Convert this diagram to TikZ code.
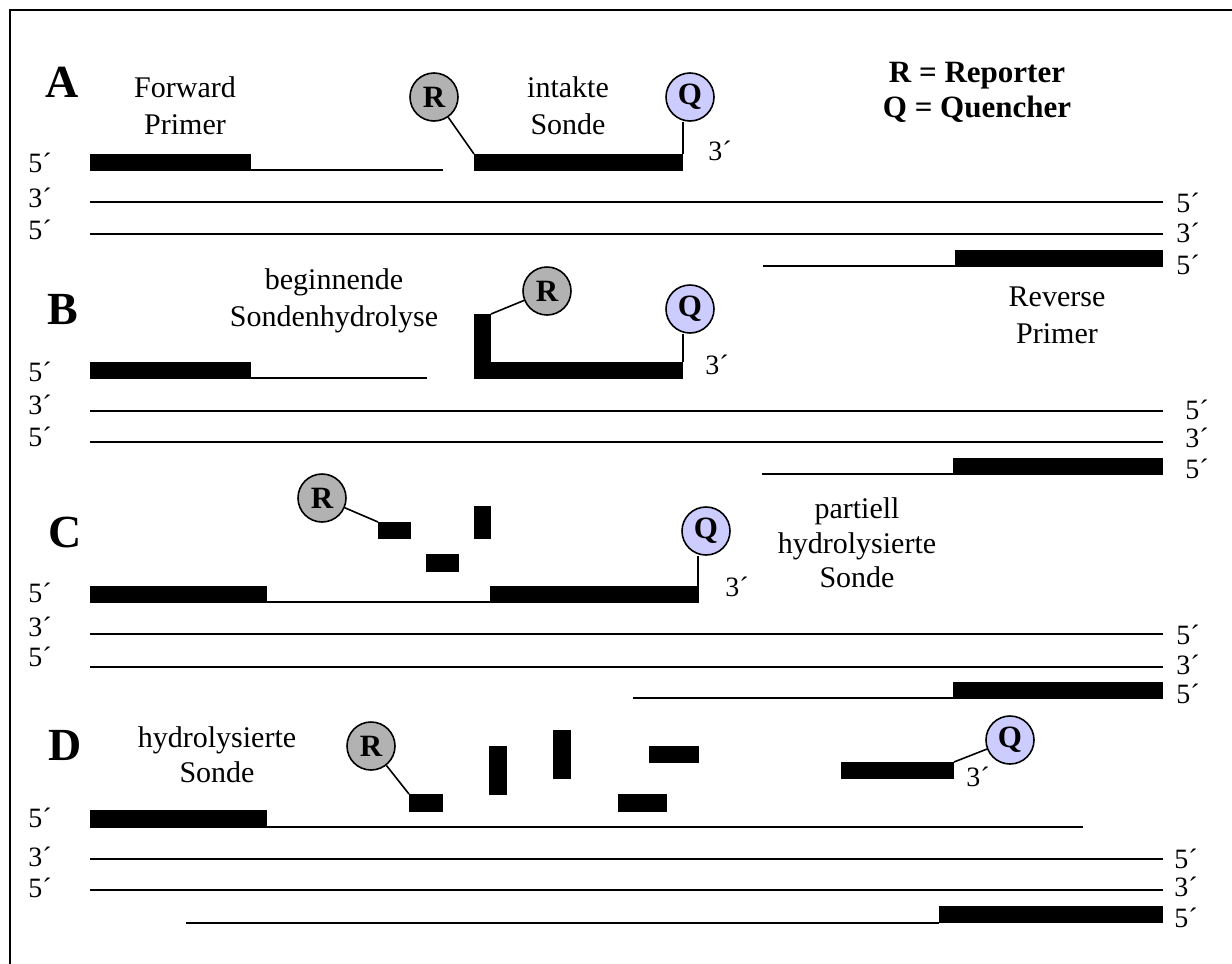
\documentclass[tikz,border=0pt]{standalone}
\usepackage{fontspec}
\setmainfont{Liberation Serif}
\definecolor{repgray}{RGB}{178,178,178}
\definecolor{quelav}{RGB}{204,204,255}
\begin{document}
\begin{tikzpicture}[x=0.5pt,y=-0.5pt,
  dnaline/.style={line width=1pt},
  link/.style={line width=0.8pt},
  framestyle/.style={line width=1pt},
  rep/.style={circle, draw, line width=0.8pt, fill=repgray, minimum size=24pt, inner sep=0pt, font=\fontsize{15.5}{15.5}\selectfont\bfseries},
  que/.style={circle, draw, line width=0.8pt, fill=quelav, minimum size=24pt, inner sep=0pt, font=\fontsize{15.5}{15.5}\selectfont\bfseries},
  lbl/.style={font=\fontsize{15}{18.5}\selectfont, align=center, inner sep=0pt},
  legend/.style={font=\fontsize{15.5}{17.5}\selectfont\bfseries, align=center, inner sep=0pt},
  endlbl/.style={font=\fontsize{14}{14}\selectfont, inner sep=0pt},
  panel/.style={font=\fontsize{23}{23}\selectfont\bfseries, inner sep=0pt}]
\useasboundingbox (0,0) rectangle (1232,964);
\draw[framestyle] (10,964) -- (10,10) -- (1232,10);

% ---------------- Panel A ----------------
\node[panel] (labA) at (62,82) {A};
\node[lbl] (fpA) at (185,106) {Forward\\Primer};
\node[lbl] (isA) at (568,106) {intakte\\Sonde};
\node[legend] (leg) at (977,92) {R = Reporter\\Q = Quencher};
\node[rep] (RA) at (434,97) {R};
\node[que] (QA) at (690,97) {Q};
\fill (90,154) rectangle (251,171);
\draw[dnaline] (251,170) -- (443,170);
\fill (474,154) rectangle (683,171);
\coordinate (pA5) at (474,154);
\coordinate (pA3) at (683,154);
\draw[link] (RA) -- (pA5);
\draw[link] (pA3) -- (pA3 |- QA.south);
\node[endlbl] (tA) at (720,151) {3´};
\node[endlbl] (lA1) at (40,163) {5´};
\node[endlbl] (lA2) at (40,198) {3´};
\node[endlbl] (lA3) at (40,230) {5´};
\draw[dnaline] (90,202) -- (1163,202);
\draw[dnaline] (90,234) -- (1163,234);
\node[endlbl] (rA1) at (1188,203) {5´};
\node[endlbl] (rA2) at (1188,233) {3´};
\node[endlbl] (rA3) at (1188,265) {5´};
\draw[dnaline] (763,266) -- (955,266);
\fill (955,250) rectangle (1163,267);
\node[lbl] (rpA) at (1057,315) {Reverse\\Primer};

% ---------------- Panel B ----------------
\node[panel] (labB) at (63,310) {B};
\node[lbl] (bsB) at (334,301) {beginnende\\Sondenhydrolyse};
\node[rep] (RB) at (547,291) {R};
\node[que] (QB) at (690,309) {Q};
\fill (90,362) rectangle (251,379);
\draw[dnaline] (251,378) -- (427,378);
\fill (474,314) rectangle (491,379);
\fill (491,362) rectangle (683,379);
\coordinate (pB5) at (491,314);
\coordinate (pB3) at (683,362);
\draw[link] (pB5) -- (RB);
\draw[link] (pB3) -- (pB3 |- QB.south);
\node[endlbl] (tB) at (717,365) {3´};
\node[endlbl] (lB1) at (40,372) {5´};
\node[endlbl] (lB2) at (40,405) {3´};
\node[endlbl] (lB3) at (40,437) {5´};
\draw[dnaline] (90,411) -- (1163,411);
\draw[dnaline] (90,442) -- (1163,442);
\node[endlbl] (rB1) at (1197,410) {5´};
\node[endlbl] (rB2) at (1197,438) {3´};
\node[endlbl] (rB3) at (1197,469) {5´};
\draw[dnaline] (762,474) -- (953,474);
\fill (953,458) rectangle (1163,475);

% ---------------- Panel C ----------------
\node[panel] (labC) at (65,532) {C};
\node[rep] (RC) at (322,498) {R};
\fill (378,522) rectangle (411,539);
\coordinate (pC5) at (378,522);
\draw[link] (RC) -- (pC5);
\fill (426,554) rectangle (459,572);
\fill (474,506) rectangle (491,539);
\node[que] (QC) at (706,531) {Q};
\fill (490,586) rectangle (699,603);
\coordinate (pC3) at (698,586);
\draw[link] (pC3) -- (pC3 |- QC.south);
\fill (90,586) rectangle (267,603);
\draw[dnaline] (267,602) -- (490,602);
\node[endlbl] (tC) at (737,587) {3´};
\node[lbl, font=\fontsize{15}{17.3}\selectfont] (phC) at (857,543) {partiell\\hydrolysierte\\Sonde};
\node[endlbl] (lC1) at (40,593) {5´};
\node[endlbl] (lC2) at (40,627) {3´};
\node[endlbl] (lC3) at (40,657) {5´};
\draw[dnaline] (90,634) -- (1163,634);
\draw[dnaline] (90,667) -- (1163,667);
\node[endlbl] (rC1) at (1188,635) {5´};
\node[endlbl] (rC2) at (1188,665) {3´};
\node[endlbl] (rC3) at (1188,694) {5´};
\draw[dnaline] (633,698) -- (953,698);
\fill (953,682) rectangle (1163,699);

% ---------------- Panel D ----------------
\node[panel] (labD) at (65,745) {D};
\node[lbl, font=\fontsize{15}{17.5}\selectfont] (hsD) at (217,755) {hydrolysierte\\Sonde};
\node[rep] (RD) at (371,746) {R};
\fill (409,794) rectangle (443,812);
\coordinate (pD5) at (409,794);
\draw[link] (RD) -- (pD5);
\fill (489,746) rectangle (507,795);
\fill (553,730) rectangle (571,779);
\fill (649,746) rectangle (699,763);
\fill (618,794) rectangle (667,812);
\fill (841,762) rectangle (954,779);
\coordinate (pD3) at (954,762);
\node[que] (QD) at (1010,740) {Q};
\draw[link] (pD3) -- (QD);
\node[endlbl] (tD) at (978,777) {3´};
\fill (90,810) rectangle (267,828);
\draw[dnaline] (267,827) -- (1083,827);
\node[endlbl] (lD1) at (40,818) {5´};
\node[endlbl] (lD2) at (40,857) {3´};
\node[endlbl] (lD3) at (40,888) {5´};
\draw[dnaline] (90,859) -- (1163,859);
\draw[dnaline] (90,890) -- (1163,890);
\node[endlbl] (rD1) at (1186,859) {5´};
\node[endlbl] (rD2) at (1186,887) {3´};
\node[endlbl] (rD3) at (1186,918) {5´};
\draw[dnaline] (186,923) -- (939,923);
\fill (939,906) rectangle (1163,923);
\end{tikzpicture}
\end{document}
